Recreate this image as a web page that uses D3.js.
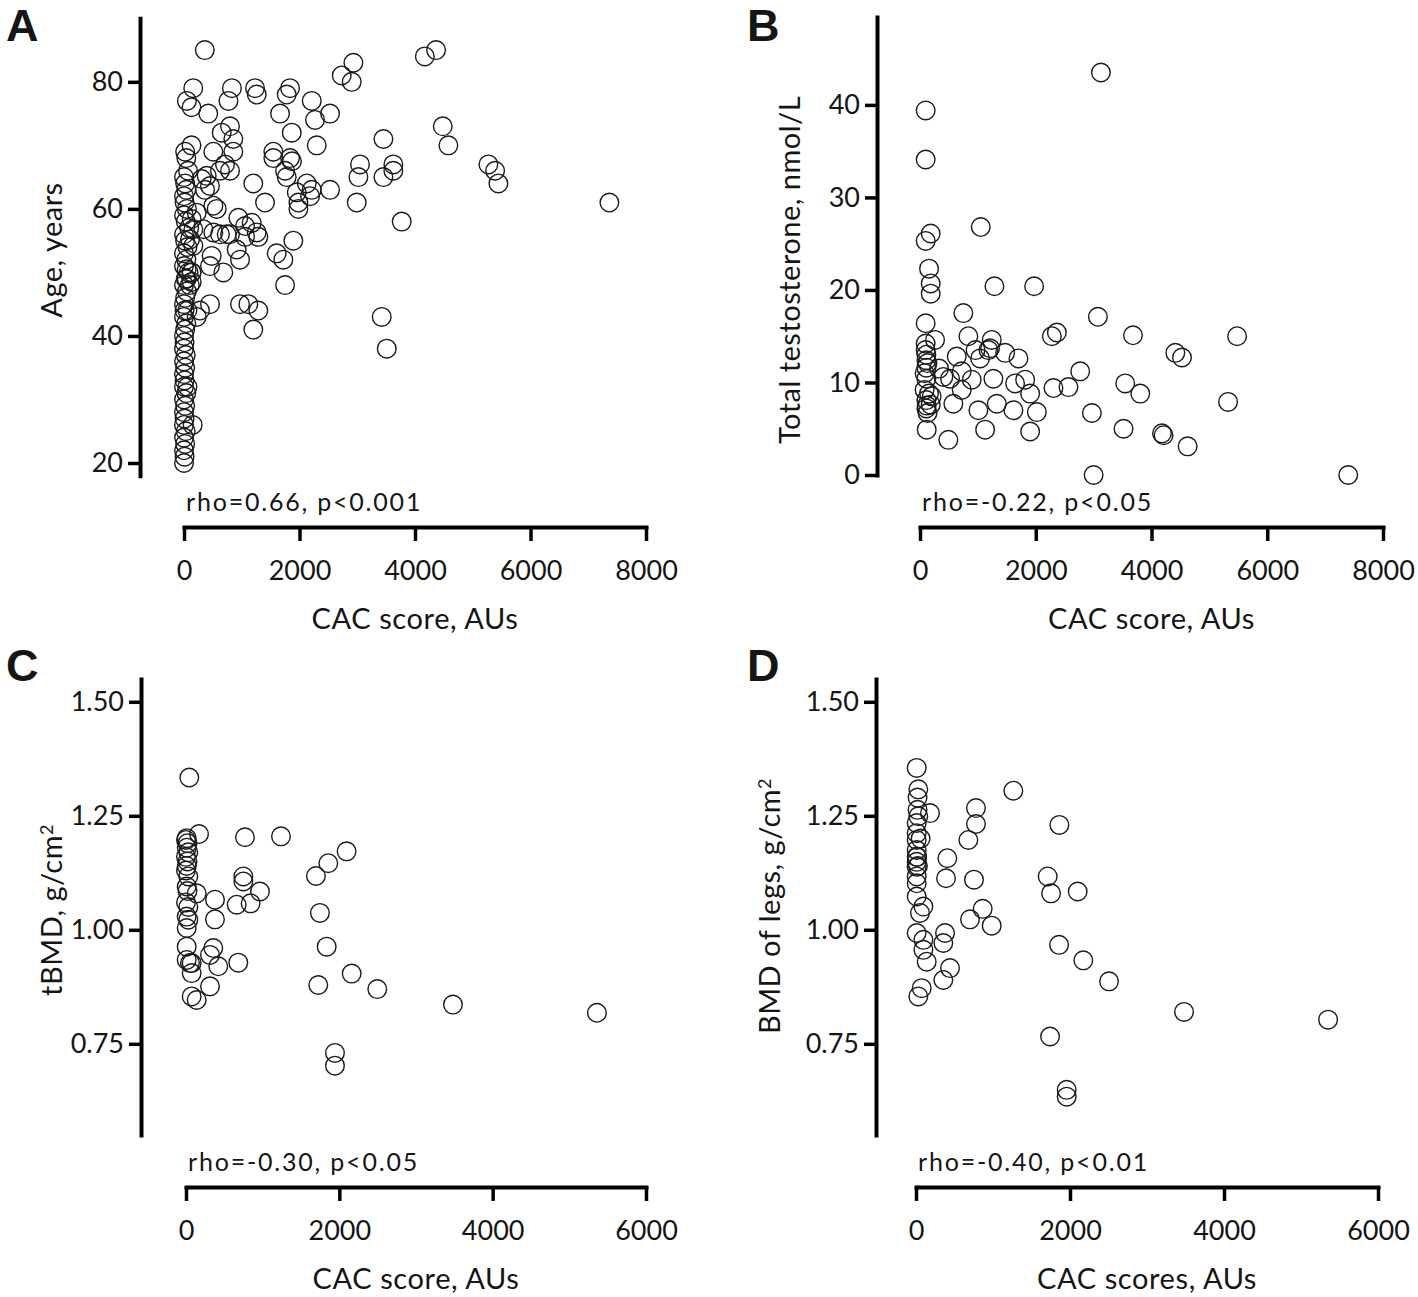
<!DOCTYPE html>
<html>
<head>
<meta charset="utf-8">
<script src="https://cdn.jsdelivr.net/npm/d3@7"></script>
<style>
  html, body { margin: 0; padding: 0; background: #fff; }
  svg { display: block; }
  text { font-family: Lato, "Open Sans", sans-serif; fill: #151515; }
</style>
</head>
<body>
<svg id="chart" width="1418" height="1297"></svg>
<script>
// ---------- Panel A: CAC score vs Age ----------
const aCac = [0,10,0,20,0,30,0,150,10,0,20,0,40,0,60,10,0,20,0,30,0,10,0,20,40,0,10,60,0,20,50,0,100,30,80,0,130,40,0,60,20,0,90,30,0,50,10,0,40,20,0,70,40,20,130,50,130,160,360,
  220,277,450,970,1114,1287,1200,
  364,508,941,1172,1259,739,623,508,335,162,133,220,104,162,479,681,970,912,1605,1720,46,133,46,133,393,1200,1403,623,306,450,797,1057,1057,1287,1893,1750,450,566,
  420,830,770,1230,1260,1836,1779,1663,2212,2269,2529,2731,2933,2904,797,653,854,508,854,710,797,1866,2298,1547,1547,1836,1870,1750,1779,1952,1981,1981,2125,2212,2183,2529,2991,3048,3020,3453,3453,3625,3625,3770,4170,4365,4481,4578,5271,5387,5444,7366,3424,3511];
const aAge = [20,21,22,23,24,25,26,26,27,28,29,30,31,32,32,33,34,35,36,37,38,39,40,41,42,43,44,44,45,46,47,48,48,49,50,51,50,52,53,54,55,56,57,58,59,60,61,62,63,64,65,66,68,69,70,77,76,79,85,
  43,44,45,45,45,44,41,
  63,60.5,58.6,57.8,56.3,56,56,56.3,56.8,56.8,58.4,59.4,55.2,54.2,52.6,50,52,53.6,53,52,50.5,50,49,48.5,65.2,64,61,66,64.7,63.6,56,57.3,55.6,55.6,55,48,51,60,
  75,79,77,79,78,79,78,75,77,74,75,81,83,80,73,72,71,69,69,67,66,72,70,69,68,68,67.5,66,65,62.6,61,60,64,63,62,63,61,67,65,71,65,67,66,58,84,85,73,70,67,66,64,61,43,38];

// ---------- Panel B: CAC score vs Total testosterone ----------
const bCac = [3126,98,98,1050,185,98,156,185,185,1286,1972,749,3074,3680,2278,2365,98,836,260,1240,1183,1471,1701,635,1038,1211,404,721,894,1268,1643,1817,1903,721,576,1009,1327,1614,2019,1125,1903,490,116,116,202,2768,2565,2306,3546,3806,2970,3517,3000,4181,5479,4412,4527,5323,4209,4624,7399,519,
  98,98,110,110,130,110,80,110,80,156,110,185,110,130,330,960];
const bTestosterone = [43.5,39.4,34.1,26.8,26.1,25.3,22.3,20.7,19.6,20.4,20.4,17.5,17.1,15.1,15,15.4,16.4,15,14.6,14.6,13.5,13.2,12.6,12.8,12.6,13.7,10.6,11.2,10.3,10.4,9.9,10.3,8.8,9.2,7.7,7,7.7,7,6.8,4.9,4.7,3.8,4.9,7.5,8.5,11.2,9.5,9.4,9.9,8.8,6.7,5,0,4.5,15,13.2,12.7,7.9,4.3,3.1,0,10.4,
  14.2,13.5,13,12.4,12.1,11.6,11,10.4,9.2,8.8,8.1,7.6,7.2,6.7,11.5,13.5];

// ---------- Panel C: CAC score vs tBMD ----------
const cCac = [43,170,9,0,20,10,30,0,20,10,0,30,9,20,0,769,1239,2095,1856,1695,748,748,965,661,843,1747,378,378,139,30,9,9,9,356,313,682,9,74,421,74,313,74,139,1835,2161,2495,1725,1943,1943,3482,5360,52,30];
const cTbmd = [1.334,1.210,1.201,1.197,1.19,1.18,1.17,1.16,1.15,1.14,1.13,1.117,1.095,1.085,1.06,1.203,1.205,1.172,1.146,1.118,1.117,1.106,1.084,1.055,1.058,1.037,1.066,1.023,1.080,1.022,1.029,1.004,0.963,0.960,0.945,0.928,0.934,0.927,0.920,0.905,0.876,0.854,0.846,0.963,0.904,0.870,0.879,0.730,0.702,0.836,0.818,0.927,1.05];

// ---------- Panel D: CAC scores vs BMD of legs ----------
const dCac = [9,30,20,182,1264,779,779,1862,680,407,390,753,1710,1754,2100,866,701,983,20,30,9,9,9,9,9,9,9,9,9,9,96,52,9,96,96,139,377,355,442,355,74,30,1858,2173,2507,1741,1957,1957,3481,5352,15,25,60];
const dLegBmd = [1.355,1.308,1.29,1.256,1.305,1.267,1.232,1.230,1.197,1.157,1.113,1.110,1.117,1.080,1.084,1.046,1.023,1.009,1.263,1.249,1.234,1.212,1.197,1.175,1.160,1.149,1.138,1.117,1.102,1.073,1.051,1.037,0.993,0.978,0.956,0.930,0.993,0.971,0.916,0.890,0.872,0.854,0.967,0.933,0.887,0.766,0.649,0.634,0.820,0.803,1.16,1.14,1.20];

// ---------- Ticks ----------
const aXTicks = [0,2000,4000,6000,8000];
const aYTicks = [20,40,60,80];
const bXTicks = [0,2000,4000,6000,8000];
const bYTicks = [0,10,20,30,40];
const cXTicks = [0,2000,4000,6000];
const cYTicks = [0.75,1.00,1.25,1.50];
const dXTicks = [0,2000,4000,6000];
const dYTicks = [0.75,1.00,1.25,1.50];

const svg = d3.select("#chart");

function panel(cfg) {
  const g = svg.append("g");
  const x = d3.scaleLinear().domain(cfg.xDomain).range(cfg.xRange);
  const y = d3.scaleLinear().domain(cfg.yDomain).range(cfg.yRange);

  // points
  g.append("g").selectAll("circle")
    .data(cfg.xs.map((v, i) => [v, cfg.ys[i]]))
    .join("circle")
    .attr("cx", d => x(d[0]))
    .attr("cy", d => y(d[1]))
    .attr("r", 9.3)
    .attr("fill", "none")
    .attr("stroke", "#1a1a1a")
    .attr("stroke-width", 1.4);

  // y axis
  const ya = g.append("g")
    .attr("transform", `translate(${cfg.yAxisX},0)`)
    .call(d3.axisLeft(y).tickValues(cfg.yTicks).tickFormat(cfg.yFmt)
      .tickSize(12).tickSizeOuter(0).tickPadding(5));
  // x axis
  const xa = g.append("g")
    .attr("transform", `translate(0,${cfg.xAxisY})`)
    .call(d3.axisBottom(x).tickValues(cfg.xTicks).tickFormat(d3.format("d"))
      .tickSize(14).tickSizeOuter(0).tickPadding(20));

  [ya, xa].forEach(a => {
    a.select(".domain").attr("stroke", "#000").attr("stroke-width", 4).attr("stroke-linecap", "square");
    a.selectAll(".tick line").attr("stroke", "#000").attr("stroke-width", 3.5);
    a.selectAll(".tick text").style("font-family", "Lato, sans-serif").style("font-size", "27px").attr("fill", "#151515");
  });

  // annotation
  g.append("text").attr("x", cfg.xRange[0] + 2).attr("y", cfg.xAxisY - 16)
    .style("font-size", "25px").style("letter-spacing", "1.8px").text(cfg.note);
  // x title
  g.append("text").attr("x", (cfg.xRange[0] + cfg.xRange[1]) / 2).attr("y", cfg.xAxisY + 102)
    .attr("text-anchor", "middle").style("font-size", "29px").style("letter-spacing", "0.6px").text(cfg.xTitle);
  // y title
  const yt = g.append("text")
    .attr("transform", `translate(${cfg.yTitleX},${cfg.yTitleY}) rotate(-90)`)
    .attr("text-anchor", "middle").style("font-size", "29px").style("letter-spacing", "0.5px");
  yt.append("tspan").text(cfg.yTitle);
  if (cfg.ySup) {
    yt.append("tspan").attr("dy", "-0.5em").style("font-size", "18px").text(cfg.ySup);
  }
  // panel letter
  svg.append("text").attr("x", cfg.letterX).attr("y", cfg.letterY)
    .style("font-family", "'Liberation Sans', Arial, sans-serif")
    .style("font-weight", "bold").style("font-size", "45px").attr("fill", "#000")
    .text(cfg.letter);
}

panel({
  xs: aCac, ys: aAge, xDomain: [0, 8000], xRange: [184, 646],
  yDomain: [18, 90], yRange: [475.7, 18.3], yAxisX: 140, xAxisY: 527,
  xTicks: aXTicks, yTicks: aYTicks, yFmt: d3.format("d"),
  note: "rho=0.66, p<0.001", xTitle: "CAC score, AUs",
  yTitle: "Age, years", yTitleX: 62, yTitleY: 250,
  letter: "A", letterX: 6, letterY: 41
});
panel({
  xs: bCac, ys: bTestosterone, xDomain: [0, 8000], xRange: [920, 1383],
  yDomain: [0, 49.5], yRange: [475, 17], yAxisX: 877, xAxisY: 527,
  xTicks: bXTicks, yTicks: bYTicks, yFmt: d3.format("d"),
  note: "rho=-0.22, p<0.05", xTitle: "CAC score, AUs",
  yTitle: "Total testosterone, nmol/L", yTitleX: 800, yTitleY: 270,
  letter: "B", letterX: 747, letterY: 41
});
panel({
  xs: cCac, ys: cTbmd, xDomain: [0, 6000], xRange: [186, 646],
  yDomain: [0.55, 1.55], yRange: [1135, 679], yAxisX: 141, xAxisY: 1187,
  xTicks: cXTicks, yTicks: cYTicks, yFmt: d3.format(".2f"),
  note: "rho=-0.30, p<0.05", xTitle: "CAC score, AUs",
  yTitle: "tBMD, g/cm", ySup: "2", yTitleX: 62, yTitleY: 910,
  letter: "C", letterX: 6, letterY: 681
});
panel({
  xs: dCac, ys: dLegBmd, xDomain: [0, 6000], xRange: [916, 1378],
  yDomain: [0.55, 1.55], yRange: [1135, 679], yAxisX: 876, xAxisY: 1187,
  xTicks: dXTicks, yTicks: dYTicks, yFmt: d3.format(".2f"),
  note: "rho=-0.40, p<0.01", xTitle: "CAC scores, AUs",
  yTitle: "BMD of legs, g/cm", ySup: "2", yTitleX: 780, yTitleY: 906,
  letter: "D", letterX: 747, letterY: 681
});
</script>
</body>
</html>
